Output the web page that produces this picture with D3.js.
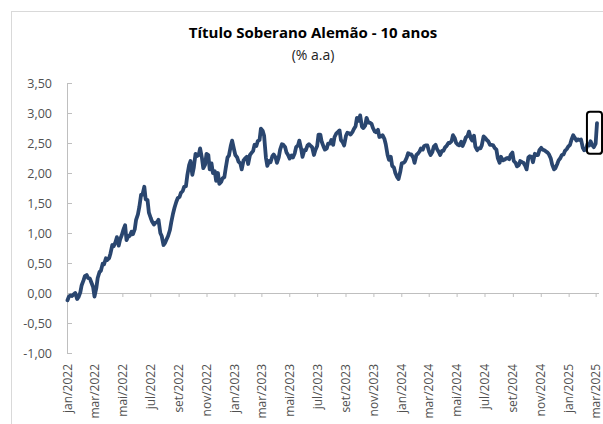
<!DOCTYPE html>
<html lang="pt">
<head>
    <meta charset="UTF-8">
    <title>Título Soberano Alemão - 10 anos</title>
    <script src="https://cdn.jsdelivr.net/npm/d3@7"></script>
    <style>
        html, body { margin: 0; padding: 0; background: #fff; }
        svg { display: block; font-family: "Open Sans", sans-serif; }
    </style>
</head>
<body>
<svg id="chart" width="603" height="424"></svg>
<script>
    // two readings a week (Monday, Thursday), counted from the first Monday
    var firstMonday = "2022-01-03";

    // weeks starting in 2022
    var yields2022 = [
        -0.12, -0.06, -0.04, -0.05, -0.02, 0.00, -0.10, -0.07, 0.01, 0.13,
        0.21, 0.28, 0.30, 0.25, 0.24, 0.18, 0.10, -0.06,
        0.08, 0.25, 0.35, 0.37, 0.49, 0.48, 0.58, 0.55,
        0.58, 0.66, 0.80, 0.78, 0.85, 0.93, 0.79, 0.89,
        0.97, 1.05, 1.13, 0.88, 0.95, 0.95, 1.02, 0.98, 1.06, 1.22,
        1.31, 1.43, 1.64, 1.64, 1.77, 1.56, 1.55, 1.34,
        1.25, 1.19, 1.14, 1.17, 1.18, 1.22, 1.00, 0.95,
        0.80, 0.83, 0.90, 0.95, 1.05, 1.18, 1.33, 1.42, 1.52, 1.58,
        1.60, 1.67, 1.70, 1.77, 1.78, 1.96, 2.13, 2.20,
        1.97, 2.08, 2.32, 2.28, 2.30, 2.41, 2.25, 2.08, 2.14, 2.32,
        2.30, 2.06, 2.16, 2.00, 2.03, 1.87, 2.00, 1.82,
        1.85, 1.91, 1.93, 2.08, 2.26, 2.29, 2.45, 2.54
    ];

    // weeks starting in 2023
    var yields2023 = [
        2.40, 2.30, 2.26, 2.19, 2.16, 2.06, 2.21, 2.24, 2.27, 2.15,
        2.30, 2.33, 2.37, 2.47, 2.45, 2.53, 2.55, 2.74,
        2.70, 2.62, 2.25, 2.12, 2.20, 2.18, 2.28, 2.31,
        2.26, 2.17, 2.26, 2.39, 2.48, 2.47, 2.43, 2.34,
        2.29, 2.24, 2.29, 2.26, 2.33, 2.43, 2.46, 2.54, 2.40, 2.27,
        2.38, 2.38, 2.46, 2.48, 2.45, 2.43, 2.30, 2.38,
        2.45, 2.64, 2.64, 2.52, 2.44, 2.39, 2.41, 2.49, 2.49, 2.55,
        2.47, 2.60, 2.66, 2.68, 2.71, 2.55, 2.51, 2.46,
        2.62, 2.67, 2.66, 2.64, 2.68, 2.73, 2.78, 2.92,
        2.87, 2.96, 2.77, 2.75, 2.79, 2.92, 2.84, 2.84, 2.82, 2.75,
        2.69, 2.68, 2.72, 2.60, 2.61, 2.63, 2.57, 2.48,
        2.30, 2.22, 2.27, 2.12, 2.09, 2.00, 1.93, 1.90
    ];

    // weeks starting in 2024
    var yields2024 = [
        2.03, 2.16, 2.17, 2.19, 2.26, 2.33, 2.31, 2.31, 2.26, 2.17,
        2.30, 2.32, 2.36, 2.41, 2.39, 2.45, 2.46, 2.46,
        2.35, 2.30, 2.35, 2.44, 2.47, 2.40, 2.35, 2.30,
        2.37, 2.37, 2.43, 2.45, 2.50, 2.50, 2.53, 2.63, 2.58, 2.50,
        2.47, 2.46, 2.52, 2.45, 2.52, 2.59, 2.62, 2.69,
        2.58, 2.54, 2.62, 2.44, 2.38, 2.41, 2.41, 2.46,
        2.61, 2.59, 2.55, 2.53, 2.47, 2.47, 2.46, 2.42, 2.39, 2.25,
        2.17, 2.27, 2.21, 2.22, 2.24, 2.25, 2.23, 2.30,
        2.34, 2.20, 2.17, 2.11, 2.13, 2.20, 2.18, 2.17, 2.12, 2.06,
        2.26, 2.28, 2.27, 2.18, 2.32, 2.30, 2.30, 2.38,
        2.42, 2.39, 2.38, 2.36, 2.34, 2.31, 2.24, 2.14,
        2.06, 2.08, 2.15, 2.21, 2.25, 2.30, 2.31, 2.37, 2.40, 2.44
    ];

    // weeks starting in 2025
    var yields2025 = [
        2.47, 2.55, 2.63, 2.59, 2.54, 2.56, 2.55, 2.56,
        2.42, 2.38, 2.39, 2.48, 2.46, 2.53, 2.46, 2.43,
        2.49, 2.83
    ];

    var monthNames = ["jan", "fev", "mar", "abr", "mai", "jun", "jul", "ago", "set", "out", "nov", "dez"];
    var xTickLabels = ["jan/2022", "mar/2022", "mai/2022", "jul/2022", "set/2022", "nov/2022",
        "jan/2023", "mar/2023", "mai/2023", "jul/2023", "set/2023", "nov/2023",
        "jan/2024", "mar/2024", "mai/2024", "jul/2024", "set/2024", "nov/2024",
        "jan/2025", "mar/2025"];
    var yTicks = [-1, -0.5, 0, 0.5, 1, 1.5, 2, 2.5, 3, 3.5];

    // box drawn round the last readings
    var highlight = { from: "2025-02-12", to: "2025-03-17", low: 2.32, high: 3.02 };

    var parseDay = d3.timeParse("%Y-%m-%d");
    var start = parseDay(firstMonday);

    var yields = yields2022.concat(yields2023, yields2024, yields2025);
    var series = yields.map(function (v, i) {
        return { date: d3.timeDay.offset(start, Math.floor(i / 2) * 7 + (i % 2) * 3), value: v };
    });

    // tick dates follow the axis start day (the 3rd of the month)
    var tickDates = xTickLabels.map(function (s) {
        var p = s.split("/");
        return new Date(+p[1], monthNames.indexOf(p[0]), start.getDate());
    });

    var svg = d3.select("#chart");

    // chart frame
    svg.append("rect")
        .attr("x", 11.5).attr("y", 11.5)
        .attr("width", 620).attr("height", 440)
        .attr("fill", "#fff")
        .attr("stroke", "#d9d9d9");

    var x = d3.scaleTime()
        .domain([start, series[series.length - 1].date])
        .range([67.5, 597]);

    var y = d3.scaleLinear()
        .domain([-1, 3.5])
        .range([353, 83]);

    // title
    svg.append("text")
        .attr("x", 313).attr("y", 38)
        .attr("text-anchor", "middle")
        .attr("font-size", 15)
        .attr("font-weight", "bold")
        .attr("fill", "#000")
        .text("Título Soberano Alemão - 10 anos");

    svg.append("text")
        .attr("x", 313).attr("y", 60)
        .attr("text-anchor", "middle")
        .attr("font-size", 14)
        .attr("fill", "#222")
        .text("(% a.a)");

    // y axis, ticks point into the plot
    var yAxis = svg.append("g")
        .attr("transform", "translate(67,0)")
        .call(d3.axisLeft(y)
            .tickValues(yTicks)
            .tickSizeInner(-5)
            .tickSizeOuter(0)
            .tickPadding(15)
            .tickFormat(function (d) { return d3.format(".2f")(d).replace(".", ",").replace("−", "-"); }));

    yAxis.select(".domain").attr("stroke", "#bfbfbf");
    yAxis.selectAll(".tick line").attr("stroke", "#bfbfbf");
    yAxis.selectAll(".tick text")
        .attr("fill", "#505050")
        .attr("font-size", 12.5)
        .attr("font-family", "Open Sans, sans-serif");

    // x axis crosses at zero, labels sit below the plot
    var xAxis = svg.append("g")
        .attr("transform", "translate(0," + y(0) + ")")
        .call(d3.axisBottom(x)
            .tickValues(tickDates)
            .tickSize(4)
            .tickSizeOuter(0)
            .tickFormat(""));

    xAxis.select(".domain").attr("stroke", "#bfbfbf")
        .attr("d", "M67," + 0.5 + "H599");
    xAxis.selectAll(".tick line").attr("stroke", "#bfbfbf");

    svg.append("g")
        .selectAll("text")
        .data(tickDates)
        .enter().append("text")
        .attr("transform", function (d) { return "translate(" + (x(d) + 1) + ",364) rotate(-90)"; })
        .attr("dy", "0.3em")
        .attr("text-anchor", "end")
        .attr("font-size", 12)
        .attr("fill", "#505050")
        .text(function (d, i) { return xTickLabels[i]; });

    // the series
    var line = d3.line()
        .x(function (d) { return x(d.date); })
        .y(function (d) { return y(d.value); });

    svg.append("path")
        .datum(series)
        .attr("fill", "none")
        .attr("stroke", "#2a466f")
        .attr("stroke-width", 3.8)
        .attr("stroke-linejoin", "round")
        .attr("stroke-linecap", "round")
        .attr("d", line);

    // highlight box
    svg.append("rect")
        .attr("x", x(parseDay(highlight.from)))
        .attr("y", y(highlight.high))
        .attr("width", x(parseDay(highlight.to)) - x(parseDay(highlight.from)))
        .attr("height", y(highlight.low) - y(highlight.high))
        .attr("rx", 3)
        .attr("fill", "none")
        .attr("stroke", "#000")
        .attr("stroke-width", 2);
</script>
</body>
</html>
